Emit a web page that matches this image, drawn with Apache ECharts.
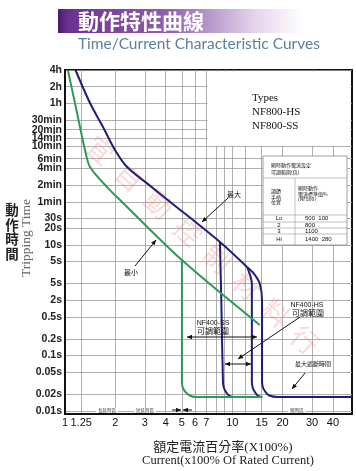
<!DOCTYPE html>
<html><head><meta charset="utf-8">
<script src="https://cdn.jsdelivr.net/npm/echarts@6/dist/echarts.min.js"></script>
<style>html,body{margin:0;padding:0;background:#fff}#c{width:356px;height:471px}</style>
</head><body><div id="c"></div><script>
// ---- data ----
const xTicks = [1, 1.25, 2, 3, 4, 5, 6, 7, 10, 15, 20, 30, 40];
const xTickLabels = ['1', '1.25', '2', '3', '4', '5', '6', '7', '10', '15', '20', '30', '40'];
const xGridValues = [1.25, 2, 3, 4, 5, 6, 7, 8, 9, 10, 12, 15, 20, 30, 40];
const yTicks = [14400, 7200, 3600, 1800, 1200, 840, 600, 360, 240, 120, 60, 30, 20, 10, 5, 2, 1, 0.5, 0.2, 0.1, 0.05, 0.02, 0.01];
const yTickLabels = ['4h', '2h', '1h', '30min', '20min', '14min', '10min', '6min', '4min', '2min', '1min', '30s', '20s', '10s', '5s', '5s', '2s', '0.5s', '0.2s', '0.1s', '0.05s', '0.02s', '0.01s'];
// minimum curve (green)
const minThermal = [[1.04, 14400], [1.147, 3650], [1.229, 1346], [1.317, 516], [1.411, 255], [1.807, 106], [2.133, 64.6], [5.0, 5.3], [14.6, 0.357]];
const minInstant = [[5.0, 5.3], [5.0, 0.0333], [5.07, 0.026], [5.25, 0.022], [5.55, 0.0192], [6.0, 0.0178], [15.2, 0.0178]];
// maximum curve (navy)
const maxThermal = [[1.155, 14400], [1.411, 3650], [1.687, 1346], [1.99, 516], [2.35, 255], [3.22, 117.5], [4.24, 60.2], [8.44, 11.26], [12.26, 3.98]];
const maxHS = [[8.44, 11.26], [8.6, 1.0], [8.8, 0.0333], [8.92, 0.026], [9.17, 0.022], [9.56, 0.019], [10.1, 0.0178]];
const maxInner = [[12.26, 3.98], [12.8, 2.8], [13.1, 2.0], [13.1, 0.0333], [13.28, 0.026], [13.65, 0.022], [14.2, 0.019], [15.0, 0.0178]];
const maxOuter = [[12.26, 3.98], [13.5, 3.0], [14.6, 2.0], [15.07, 1.0], [15.07, 0.0333], [15.3, 0.026], [15.8, 0.022], [16.6, 0.019], [18.8, 0.0178], [52, 0.0178]];
const watermark = ['宜', '自', '動', '控', '制', '材', '料', '行'];

const GREEN = '#2f9a52', NAVY = '#1e1e78';
const chart = echarts.init(document.getElementById('c'), null, {renderer: 'canvas'});
function lookup(arr, labels, v) {
  for (let i = 0; i < arr.length; i++) if (Math.abs(arr[i] - v) <= 1e-6 * Math.max(1, Math.abs(arr[i]))) return labels[i];
  return '';
}
function line(data, color, z) {
  return {type: 'line', data: data, showSymbol: false, smooth: 0.3, z: z,
    lineStyle: {color: color, width: 2}, itemStyle: {color: color}, silent: true, animation: false};
}
chart.setOption({
  animation: false,
  grid: {left: 65, right: 4, top: 70, bottom: 57, show: true, borderColor: '#111', borderWidth: 2, backgroundColor: 'transparent'},
  xAxis: {type: 'log', logBase: 10, min: 1, max: 52,
    axisLine: {show: true, lineStyle: {color: '#111', width: 2}},
    axisTick: {show: false, customValues: xGridValues},
    axisLabel: {customValues: xTicks, formatter: v => lookup(xTicks, xTickLabels, v), fontSize: 11, color: '#111', margin: 3, fontFamily: 'Liberation Sans'},
    splitLine: {show: true, lineStyle: {color: '#9a9a9a', width: 0.8}}},
  yAxis: {type: 'log', logBase: 10, min: 0.0088, max: 14400,
    axisLine: {show: true, lineStyle: {color: '#111', width: 2}},
    axisTick: {show: false, customValues: yTicks},
    axisLabel: {customValues: yTicks, formatter: v => lookup(yTicks, yTickLabels, v), fontSize: 10.5, fontWeight: 'bold', color: '#222', margin: 3, fontFamily: 'Liberation Sans'},
    splitLine: {show: true, lineStyle: {color: '#9a9a9a', width: 0.8}}},
  series: [line(maxHS, NAVY, 3), line(maxInner, NAVY, 3), line(maxOuter, NAVY, 3), line(maxThermal, NAVY, 3),
           line(minThermal, GREEN, 4), line(minInstant, GREEN, 4)]
});

const p1 = chart.convertToPixel({gridIndex: 0}, [7, 14400]);
const p2 = chart.convertToPixel({gridIndex: 0}, [52, 600]);
const G = [];
G.push({type: 'rect', z: 1, shape: {x: p1[0] + 1, y: p1[1] + 1.5, width: p2[0] - p1[0] - 2.5, height: p2[1] - p1[1] - 2}, style: {fill: '#fff'}});
function txt(x, y, text, o) {
  return Object.assign({type: 'text', z: 100, x: x, y: y, style: Object.assign({text: text, fill: '#111', fontSize: 8, fontFamily: 'Noto Sans CJK TC', textAlign: 'center', textVerticalAlign: 'middle'}, o || {})});
}
function arrow(x1, y1, x2, y2, both) {
  const els = [{type: 'line', z: 100, shape: {x1: x1, y1: y1, x2: x2, y2: y2}, style: {stroke: '#111', lineWidth: 1}}];
  const head = (ax, ay, bx, by) => { const a = Math.atan2(by - ay, bx - ax), L = 5, W = 2.3;
    return {type: 'polygon', z: 100, shape: {points: [[bx, by], [bx - L * Math.cos(a) + W * Math.sin(a), by - L * Math.sin(a) - W * Math.cos(a)], [bx - L * Math.cos(a) - W * Math.sin(a), by - L * Math.sin(a) + W * Math.cos(a)]]}, style: {fill: '#111'}}; };
  els.push(head(x1, y1, x2, y2)); if (both) els.push(head(x2, y2, x1, y1));
  return els;
}
// watermark
watermark.forEach((ch, i) => {
  const t = i / (watermark.length - 1);
  G.push({type: 'text', z: 2, x: 100 + t * 205, y: 150 + t * 190, rotation: -0.72,
    style: {text: ch, fill: 'rgba(236,120,120,0.28)', fontSize: 27, fontFamily: 'Noto Sans CJK TC', textAlign: 'center', textVerticalAlign: 'middle'}});
});
// title banner
G.push({type: 'rect', z: 50, shape: {x: 58, y: 9, width: 245, height: 24}, style: {fill: new echarts.graphic.LinearGradient(0, 0, 1, 0, [{offset: 0, color: '#4a1a70'}, {offset: 0.04, color: '#6c3090'}, {offset: 0.45, color: '#9060b0'}, {offset: 0.8, color: '#e3d3ec'}, {offset: 1, color: '#ffffff'}])}});
G.push(txt(78, 21, '動作特性曲線', {fill: '#fff', fontSize: 21, fontWeight: 'bold', textAlign: 'left'}));
G.push(txt(78, 44, 'Time/Current Characteristic Curves', {fill: '#5b7f9f', fontSize: 15.5, fontFamily: 'Lato', textAlign: 'left'}));
// axis names
G.push(txt(12, 232, '動\n作\n時\n間', {fontSize: 13.5, fontWeight: 'bold', lineHeight: 14.5, fill: '#222'}));
G.push({type: 'text', z: 100, x: 26, y: 238, rotation: Math.PI / 2, style: {text: 'Tripping Time', fill: '#666', fontSize: 13.5, fontFamily: 'Liberation Serif', textAlign: 'center', textVerticalAlign: 'middle'}});
G.push(txt(223, 448, '額定電流百分率(X100%)', {fontSize: 13, fontFamily: 'Liberation Serif, Noto Sans CJK TC', fill: '#222'}));
G.push(txt(228, 461, 'Current(x100% Of Rated Current)', {fontSize: 12.5, fontFamily: 'Liberation Serif', fill: '#222'}));
// types
G.push(txt(252, 98, 'Types', {fontSize: 11, fontFamily: 'Liberation Serif', textAlign: 'left'}));
G.push(txt(252, 112, 'NF800-HS', {fontSize: 11, fontFamily: 'Liberation Serif', textAlign: 'left'}));
G.push(txt(252, 126, 'NF800-SS', {fontSize: 11, fontFamily: 'Liberation Serif', textAlign: 'left'}));
// table
G.push({type: 'rect', z: 5, shape: {x: 263, y: 156, width: 84, height: 89}, style: {fill: '#fff', stroke: '#888', lineWidth: 0.8}});
[178, 215, 222, 228, 234].forEach(y => G.push({type: 'line', z: 6, shape: {x1: 263, y1: y, x2: 347, y2: y}, style: {stroke: '#999', lineWidth: 0.6}}));
G.push({type: 'line', z: 6, shape: {x1: 295, y1: 178, x2: 295, y2: 245}, style: {stroke: '#999', lineWidth: 0.6}});
G.push(txt(271, 165, '瞬時動作電流設定', {fontSize: 5, textAlign: 'left'}));
G.push(txt(271, 172, '可調範圍(倍)', {fontSize: 5, textAlign: 'left'}));
G.push(txt(271, 197, '調節\n手柄\n位置', {fontSize: 5, textAlign: 'left', lineHeight: 5.5}));
G.push(txt(298, 194, '瞬時動作\n電流標準值%\n(NF800)', {fontSize: 5, textAlign: 'left', lineHeight: 5.5}));
[['Lo', '500  100', 218.5], ['2', '800', 225], ['3', '1100', 231], ['Hi', '1400  280', 239.5]].forEach(r => {
  G.push(txt(279, r[2], r[0], {fontSize: 6, fontFamily: 'Liberation Sans'}));
  G.push(txt(305, r[2], r[1], {fontSize: 6, fontFamily: 'Liberation Sans', textAlign: 'left'}));
});
// annotations
G.push(txt(234, 194, '最大', {fontSize: 7}));
G.push(...arrow(228, 198, 202, 222));
G.push(txt(131, 272, '最小', {fontSize: 7}));
G.push(...arrow(135, 266, 156, 240));
G.push(txt(213, 323, 'NF400-SS', {fontSize: 7, fontFamily: 'Liberation Sans'}));
G.push(txt(213, 331, '可調範圍', {fontSize: 8}));
G.push(...arrow(187, 337, 257, 337, true));
G.push(txt(307, 305, 'NF400-HS', {fontSize: 7, fontFamily: 'Liberation Sans'}));
G.push(txt(308, 313, '可調範圍', {fontSize: 8}));
G.push(...arrow(300, 317, 238, 359));
G.push(...arrow(225, 364, 251, 364, true));
G.push(txt(313, 364, '最大遮斷時間', {fontSize: 6}));
G.push(...arrow(305, 373, 292, 389));
// bottom zone labels (on the lowest grid line)
const zl = {fontSize: 4.5, fill: '#444', backgroundColor: '#fff', padding: [0, 2]};
G.push(txt(107, 410, '長延時區', zl));
G.push(txt(145, 410, '短延時區', zl));
G.push(txt(297, 410, '瞬時區', zl));
G.push(...arrow(172, 410, 181, 410));
G.push(...arrow(192, 410, 183, 410));
chart.setOption({graphic: G});
</script></body></html>
